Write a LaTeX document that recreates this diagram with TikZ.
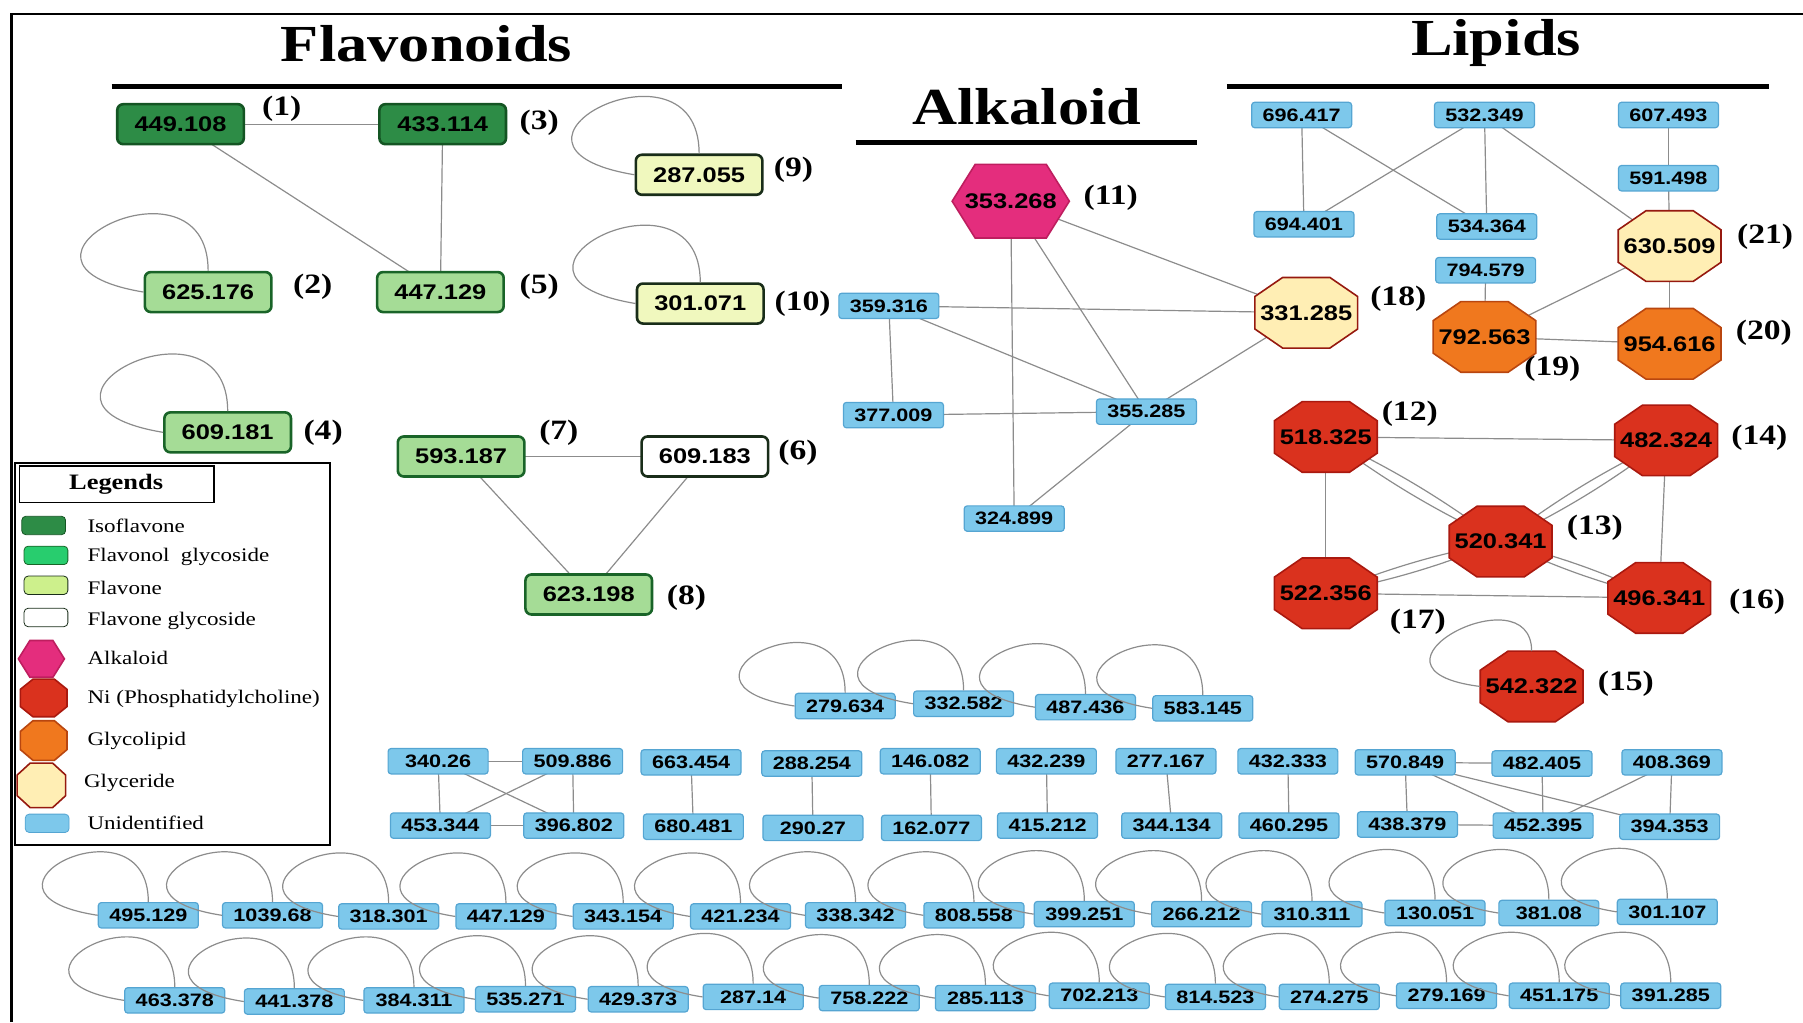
\documentclass[tikz,border=0pt]{standalone}
\usepackage{fontspec}
\setmainfont{Liberation Serif}[FakeStretch=1.2]
\setsansfont{Liberation Sans}[FakeStretch=1.2]
\usetikzlibrary{shapes.symbols}

\definecolor{isofill}{RGB}{45,140,70}
\definecolor{isodraw}{RGB}{20,85,35}
\definecolor{flolfill}{RGB}{165,220,150}
\definecolor{floldraw}{RGB}{25,100,40}
\definecolor{flofill}{RGB}{240,248,190}
\definecolor{flodraw}{RGB}{25,45,25}
\definecolor{flolkey}{RGB}{40,205,110}
\definecolor{flokey}{RGB}{205,240,140}
\definecolor{alkfill}{RGB}{228,45,125}
\definecolor{alkdraw}{RGB}{190,30,95}
\definecolor{nifill}{RGB}{218,50,30}
\definecolor{nidraw}{RGB}{170,25,15}
\definecolor{glyfill}{RGB}{240,120,30}
\definecolor{glydraw}{RGB}{185,70,15}
\definecolor{gerfill}{RGB}{255,238,180}
\definecolor{gerdraw}{RGB}{150,25,15}
\definecolor{unidfill}{RGB}{125,200,235}
\definecolor{uniddraw}{RGB}{85,165,210}
\definecolor{edgegray}{RGB}{140,140,140}

\pgfdeclarelayer{background}
\pgfsetlayers{background,main}

\makeatletter
\pgfdeclareshape{octbox}{
    \inheritsavedanchors[from=rectangle]
    \inheritanchorborder[from=rectangle]
    \inheritanchor[from=rectangle]{center}
    \inheritanchor[from=rectangle]{north}
    \inheritanchor[from=rectangle]{south}
    \inheritanchor[from=rectangle]{east}
    \inheritanchor[from=rectangle]{west}
    \inheritanchor[from=rectangle]{mid}
    \inheritanchor[from=rectangle]{base}
    \backgroundpath{%
        \southwest\edef\oxa{\the\pgf@x}\edef\oya{\the\pgf@y}%
        \northeast\edef\oxb{\the\pgf@x}\edef\oyb{\the\pgf@y}%
        \pgfmathsetmacro\ocx{0.27*(\oxb-\oxa)}%
        \pgfmathsetmacro\ocy{0.27*(\oyb-\oya)}%
        \pgfpathmoveto{\pgfpoint{\oxa+\ocx}{\oya}}%
        \pgfpathlineto{\pgfpoint{\oxb-\ocx}{\oya}}%
        \pgfpathlineto{\pgfpoint{\oxb}{\oya+\ocy}}%
        \pgfpathlineto{\pgfpoint{\oxb}{\oyb-\ocy}}%
        \pgfpathlineto{\pgfpoint{\oxb-\ocx}{\oyb}}%
        \pgfpathlineto{\pgfpoint{\oxa+\ocx}{\oyb}}%
        \pgfpathlineto{\pgfpoint{\oxa}{\oyb-\ocy}}%
        \pgfpathlineto{\pgfpoint{\oxa}{\oya+\ocy}}%
        \pgfpathclose
    }
}
\makeatother

\newcommand{\nv}[1]{\makebox[0pt]{#1}}

\begin{document}
\begin{tikzpicture}[x=0.575pt,y=-0.575pt, %red de metabolitos
    link/.style={draw=edgegray, line width=0.6pt},
    title/.style={font=\bfseries\fontsize{26}{28}\selectfont},
    rule/.style={line width=2.3pt},
    num/.style={font=\bfseries\fontsize{14}{14}\selectfont},
    unid/.style={draw=uniddraw, fill=unidfill, rounded corners=1.5pt, line width=0.6pt,
        minimum width=50pt, minimum height=12.7pt, inner sep=0pt,
        font=\sffamily\bfseries\fontsize{9}{9}\selectfont},
    flav/.style={line width=1.3pt, rounded corners=3pt, minimum width=63.3pt,
        minimum height=20pt, inner sep=0pt, font=\sffamily\bfseries\fontsize{10.6}{11}\selectfont},
    iso/.style={flav, draw=isodraw, fill=isofill},
    flol/.style={flav, draw=floldraw, fill=flolfill},
    flo/.style={flav, draw=flodraw, fill=flofill},
    floside/.style={flav, draw=flodraw, fill=white},
    oct/.style={octbox, minimum width=50.6pt, minimum height=34.5pt,
        inner sep=0pt, line width=0.8pt, font=\sffamily\bfseries\fontsize{10.6}{11}\selectfont},
    ni/.style={oct, draw=nidraw, fill=nifill},
    glyco/.style={oct, draw=glydraw, fill=glyfill},
    glyce/.style={oct, draw=gerdraw, fill=gerfill},
    alk/.style={signal, signal to=east and west, signal pointer angle=116,
        draw=alkdraw, fill=alkfill, line width=0.8pt, minimum width=58.6pt,
        minimum height=36.8pt, inner sep=0pt, font=\sffamily\bfseries\fontsize{10.6}{11}\selectfont},
    key/.style={rounded corners=2pt, minimum width=21.9pt, minimum height=9.2pt, inner sep=0pt},
    legtext/.style={anchor=west, font=\fontsize{9.6}{11}\selectfont}]

    \useasboundingbox (0,0) rectangle (1568,889);

    % marco
    \draw[line width=1.2pt] (10,889) -- (10,12) -- (1568,12);

    \node[title] (tf) at (371,38) {Flavonoids};
    \node[title] (tl) at (1301,37) {Lipids};
    \node[title] (ta) at (893,93) {Alkaloid};
    \draw[rule] (97,75) -- (732,75);
    \draw[rule] (1067,75) -- (1538,75);
    \draw[rule] (744,124) -- (1041,124);

    % flavonoides
    \node[iso] (c1) at (157,108) {449.108};
    \node[iso] (c3) at (385,108) {433.114};
    \node[flo] (c9) at (608,152) {287.055};
    \node[flol] (c2) at (181,254) {625.176};
    \node[flol] (c5) at (383,254) {447.129};
    \node[flo] (c10) at (609,264) {301.071};
    \node[flol] (c4) at (198,376) {609.181};
    \node[flol] (c7) at (401,397) {593.187};
    \node[floside] (c6) at (613,397) {609.183};
    \node[flol] (c8) at (512,517) {623.198};

    \node[num] (l1) at (245,95) {(1)};
    \node[num] (l3) at (469,107) {(3)};
    \node[num] (l9) at (690,148) {(9)};
    \node[num] (l2) at (272,249) {(2)};
    \node[num] (l5) at (469,249) {(5)};
    \node[num] (l10) at (698,264) {(10)};
    \node[num] (l4) at (281,376) {(4)};
    \node[num] (l7) at (486,376) {(7)};
    \node[num] (l6) at (694,394) {(6)};
    \node[num] (l8) at (597,520) {(8)};

    \foreach \n in {c9,c2,c10,c4}
        \draw[link] (\n.west) .. controls +(-150,-25) and +(0,-110) .. (\n.north);

    % alcaloide
    \node[alk] (c11) at (879,175) {\nv{353.268}};
    \node[glyce] (c18) at (1136,272) {\nv{331.285}};
    \node[unid] (a1) at (773,266) {359.316};
    \node[unid] (a2) at (777,361) {377.009};
    \node[unid] (a3) at (997,358) {355.285};
    \node[unid] (a4) at (882,451) {324.899};
    \node[num] (l11) at (966,172) {(11)};
    \node[num] (l18) at (1216,260) {(18)};

    % lipidos
    \node[unid] (p1) at (1132,100) {696.417};
    \node[unid] (p2) at (1291,100) {532.349};
    \node[unid] (p3) at (1451,100) {607.493};
    \node[unid] (p4) at (1134,195) {694.401};
    \node[unid] (p5) at (1293,197) {534.364};
    \node[unid] (p6) at (1451,155) {591.498};
    \node[unid] (p7) at (1292,235) {794.579};
    \node[glyce] (c21) at (1452,214) {\nv{630.509}};
    \node[glyco] (c19) at (1291,293) {\nv{792.563}};
    \node[glyco] (c20) at (1452,299) {\nv{954.616}};
    \node[num] (l21) at (1535,206) {(21)};
    \node[num] (l19) at (1350,321) {(19)};
    \node[num] (l20) at (1534,289) {(20)};

    \node[ni] (c12) at (1153,380) {\nv{518.325}};
    \node[ni] (c14) at (1449,383) {\nv{482.324}};
    \node[ni] (c13) at (1305,471) {\nv{520.341}};
    \node[ni] (c17) at (1153,516) {\nv{522.356}};
    \node[ni] (c16) at (1443,520) {\nv{496.341}};
    \node[ni] (c15) at (1332,597) {\nv{542.322}};
    \node[num] (l12) at (1226,360) {(12)};
    \node[num] (l14) at (1530,381) {(14)};
    \node[num] (l13) at (1387,459) {(13)};
    \node[num] (l16) at (1528,523) {(16)};
    \node[num] (l17) at (1233,541) {(17)};
    \node[num] (l15) at (1414,595) {(15)};
    \draw[link] (c15.west) .. controls +(-120,-15) and +(0,-70) .. (c15.north);

    % no identificados
    \foreach \x/\y/\v [count=\i] in {735/614/279.634, 838/612/332.582, 944/615/487.436, 1046/616/583.145}
        \node[unid] (t\i) at (\x,\y) {\v};
    \foreach \x/\y/\v [count=\i] in {129/796/495.129, 237/796/1039.68, 338/797/318.301,
        440/797/447.129, 542/797/343.154, 644/797/421.234, 744/796/338.342, 847/796/808.558,
        943/795/399.251, 1045/795/266.212, 1141/795/310.311, 1248/794/130.051,
        1347/794/381.08, 1450/793/301.107}
        \node[unid] (r\i) at (\x,\y) {\v};
    \foreach \x/\y/\v [count=\i] in {152/870/463.378, 256/871/441.378, 360/870/384.311,
        457/869/535.271, 555/869/429.373, 655/867/287.14, 756/868/758.222, 857/868/285.113,
        956/866/702.213, 1057/867/814.523, 1156/867/274.275, 1258/866/279.169,
        1356/866/451.175, 1453/866/391.285}
        \node[unid] (s\i) at (\x,\y) {\v};
    \foreach \n in {t1,t2,t3,t4,r1,r2,r3,r4,r5,r6,r7,r8,r9,r10,r11,r12,r13,r14,
        s1,s2,s3,s4,s5,s6,s7,s8,s9,s10,s11,s12,s13,s14}
        \draw[link] (\n.west) .. controls +(-130,-20) and +(0,-95) .. (\n.north);

    \node[unid] (q1) at (381,662) {340.26};
    \node[unid] (q2) at (498,662) {509.886};
    \node[unid] (q3) at (383,718) {453.344};
    \node[unid] (q4) at (499,718) {396.802};
    \node[unid] (q5) at (601,663) {663.454};
    \node[unid] (q6) at (603,719) {680.481};
    \node[unid] (q7) at (706,664) {288.254};
    \node[unid] (q8) at (707,720) {290.27};
    \node[unid] (q9) at (809,662) {146.082};
    \node[unid] (q10) at (810,720) {162.077};
    \node[unid] (q11) at (910,662) {432.239};
    \node[unid] (q12) at (911,718) {415.212};
    \node[unid] (q13) at (1014,662) {277.167};
    \node[unid] (q14) at (1019,718) {344.134};
    \node[unid] (q15) at (1120,662) {432.333};
    \node[unid] (q16) at (1121,718) {460.295};
    \node[unid] (q17) at (1222,663) {570.849};
    \node[unid] (q18) at (1341,664) {482.405};
    \node[unid] (q19) at (1454,663) {408.369};
    \node[unid] (q20) at (1224,717) {438.379};
    \node[unid] (q21) at (1342,718) {452.395};
    \node[unid] (q22) at (1452,719) {394.353};

    % aristas (debajo de los nodos)
    \begin{pgfonlayer}{background}
        \foreach \a/\b in {c1/c3,c1/c5,c3/c5,c7/c6,c7/c8,c6/c8,
            c11/c18,c11/a3,c11/a4,a1/c18,a1/a3,a1/a2,a2/a3,a3/c18,a3/a4,
            p1/p4,p1/p5,p2/p4,p2/p5,p2/c21,p3/p6,p6/c21,c21/c20,c21/c19,p7/c19,c19/c20,
            c12/c14,c12/c17,c14/c16,c17/c16}
            \draw[link] (\a.center) -- (\b.center);
        \foreach \n in {c12,c14,c17,c16} {
            \draw[link] (\n.center) to[bend left=5] (c13.center);
            \draw[link] (\n.center) to[bend right=5] (c13.center);
        }
        \foreach \a/\b in {1/2,3/4,1/3,2/4,1/4,2/3,5/6,7/8,9/10,11/12,13/14,15/16,
            17/18,17/20,17/21,17/22,18/21,19/21,19/22,20/21}
            \draw[link] (q\a.center) -- (q\b.center);
    \end{pgfonlayer}

    % leyenda
    \draw[line width=1.1pt] (13,403) rectangle (287,735);
    \draw[line width=0.9pt] (17,405) rectangle (186,437);
    \node[font=\bfseries\fontsize{11}{12}\selectfont] (lg) at (101,421) {Legends};
    \node[key, draw=isodraw, fill=isofill] (k1) at (38,457) {};
    \node[key, draw=floldraw, fill=flolkey] (k2) at (40,483) {};
    \node[key, draw=flodraw, fill=flokey] (k3) at (40,509) {};
    \node[key, draw=flodraw, fill=white] (k4) at (40,537) {};
    \node[alk, minimum width=23pt, minimum height=18.4pt] (k5) at (36,573) {};
    \node[ni, minimum width=22.5pt, minimum height=18pt] (k6) at (38,607) {};
    \node[glyco, minimum width=22.5pt, minimum height=19pt] (k7) at (38,644) {};
    \node[glyce, minimum width=23.5pt, minimum height=21.5pt] (k8) at (36,683) {};
    \node[key, draw=uniddraw, fill=unidfill] (k9) at (41,716) {};
    \node[legtext] at (70,457) {Isoflavone};
    \node[legtext] at (70,484) {Flavonol\ \ glycoside};
    \node[legtext] at (70,511) {Flavone};
    \node[legtext] at (70,540) {Flavone glycoside};
    \node[legtext] at (70,572) {Alkaloid};
    \node[legtext] at (70,608) {Ni (Phosphatidylcholine)};
    \node[legtext] at (70,644) {Glycolipid};
    \node[legtext] at (67,681) {Glyceride};
    \node[legtext] at (70,716) {Unidentified};
\end{tikzpicture}
\end{document}
